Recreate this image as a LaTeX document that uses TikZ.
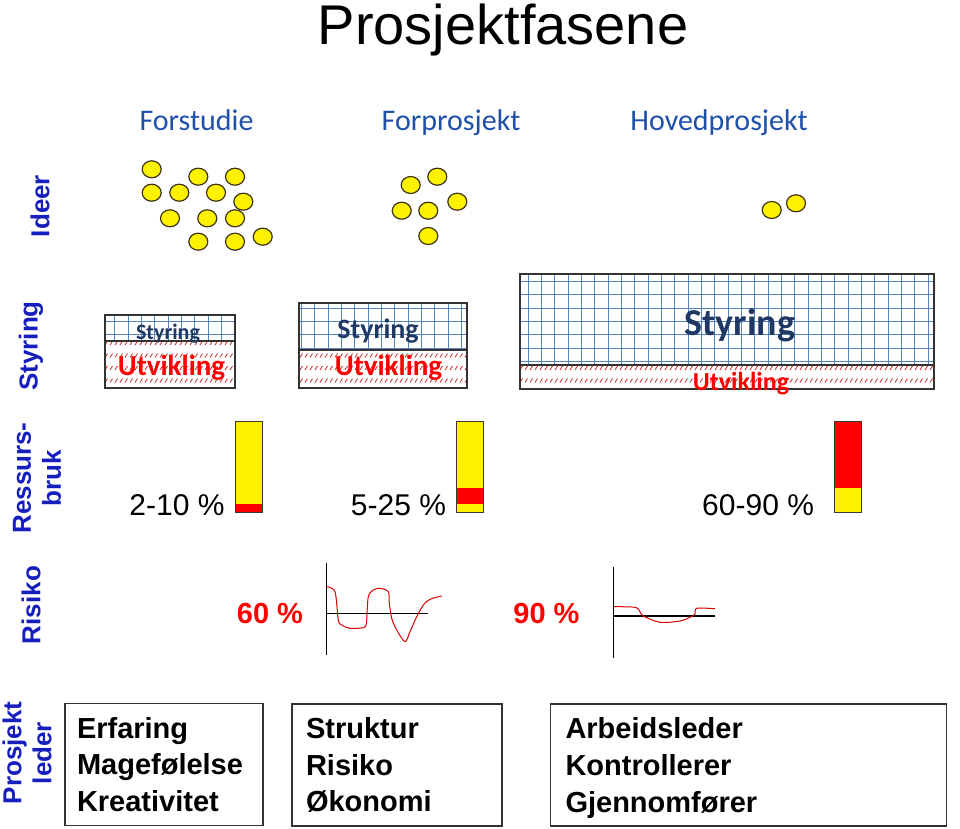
\documentclass[tikz,border=0pt]{standalone}
\usepackage{fontspec}
\setmainfont{Liberation Sans}
\newfontfamily\calibri{Carlito}
\usepackage{xcolor}
\usepackage{tikz}
\usetikzlibrary{positioning,shapes.geometric}

\definecolor{rowblue}{RGB}{22,30,190}
\definecolor{phaseblue}{RGB}{31,80,170}
\definecolor{navyblue}{RGB}{31,56,100}
\definecolor{gridblue}{RGB}{84,130,190}
\definecolor{hatchred}{RGB}{200,40,40}
\definecolor{ideaedge}{RGB}{60,50,20}

\begin{document}
\begin{tikzpicture}[x=1pt, y=-1pt,
    rowlabel/.style={rotate=90, text=rowblue, align=center, inner sep=0pt,
      font=\fontsize{26}{30}\selectfont\bfseries},
    phase/.style={anchor=base, text=phaseblue, font=\calibri\fontsize{30}{36}\selectfont},
    idea/.style={ellipse, draw=ideaedge, fill=yellow, line width=1.2pt,
      minimum width=19pt, minimum height=17pt, inner sep=0pt},
    stylabel/.style={anchor=base, text=navyblue, font=\calibri\bfseries\fontsize{#1}{#1}\selectfont},
    utvlabel/.style={anchor=base, text=red, font=\calibri\bfseries\fontsize{#1}{#1}\selectfont},
    gridline/.style={gridblue, line width=1pt},
    hatch/.style={hatchred, line width=0.8pt},
    boxline/.style={black!80, line width=1.5pt},
    bar/.style={fill=yellow, minimum width=27pt, minimum height=91pt, inner sep=0pt, outer sep=0pt},
    barline/.style={black!75!olive, line width=1pt},
    share/.style={anchor=base east, font=\fontsize{30}{36}\selectfont},
    risk/.style={text=red, font=\fontsize{29}{34}\selectfont\bfseries},
    riskline/.style={red!85!black, line width=1pt},
    axis/.style={black, line width=1.2pt},
    leader/.style={draw=black!80, line width=1.2pt, align=left, minimum height=122pt,
      inner ysep=0pt, font=\fontsize{29}{36.7}\selectfont\bfseries}
  ]
  \fill[white] (0,0) rectangle (960,828);
  \useasboundingbox (0,0) rectangle (960,828);

  \node[anchor=base, font=\fontsize{56}{60}\selectfont] (title) at (503,44) {Prosjektfasene};

  \node[phase] (forstudie) at (196.5,130) {Forstudie};
  \node[phase] (forprosjekt) at (451,130) {Forprosjekt};
  \node[phase] (hovedprosjekt) at (719,130) {Hovedprosjekt};

  \node[rowlabel] (lblideer) at (40,206) {Ideer};
  \node[rowlabel] (lblstyring) at (31,346) {Styring};
  \node[rowlabel] (lblressurs) at (37,478) {Ressurs-\\bruk};
  \node[rowlabel] (lblrisiko) at (31,605) {Risiko};
  \node[rowlabel] (lblleder) at (27,753) {Prosjekt\\leder};

  \foreach \ix/\iy [count=\k] in {151.7/169.3, 198.3/176.7, 235/176.7, 151.7/192.7, 179.3/192.7,
      216/192.7, 243.3/201.7, 170/218.3, 207.3/218.3, 235/218.3, 198.3/241.7, 235/241.7, 262.7/236.7,
      410.7/185, 437.3/176.7, 401.7/210.7, 428.3/210.7, 457.3/201.7, 428.3/236,
      771.7/210, 796/203.3}
    \node[idea] (idea\k) at (\ix,\iy) {};

  \foreach \xa/\ya/\ym/\xb/\yb in {105/315/341/235/388, 299/303/350/467/388, 520/274/365/934/389}{
    \begin{scope}
      \clip (\xa,\ya) rectangle (\xb,\ym);
      \foreach \gx in {8.3,21.63,...,940} \draw[gridline] (\gx,\ya) -- (\gx,\ym);
      \foreach \gy in {268.3,281.63,...,370} \draw[gridline] (\xa,\gy) -- (\xb,\gy);
    \end{scope}
    \begin{scope}
      \clip (\xa,\ym) rectangle (\xb,\yb);
      \foreach \hy in {343,355.5,368,380.5}
        \draw[hatch] \foreach \hx in {100,105,...,940} {(\hx,\hy+2) -- ++(2.5,-4)};
    \end{scope}
    \draw[boxline] (\xa,\ya) rectangle (\xb,\yb);
    \draw[boxline] (\xa,\ym) -- (\xb,\ym);
  }
  \node[stylabel=22] (sty1) at (168,339) {Styring};
  \node[utvlabel=29] (utv1) at (171.5,375) {Utvikling};
  \node[stylabel=28] (sty2) at (378,338) {Styring};
  \node[utvlabel=29] (utv2) at (388.5,375) {Utvikling};
  \node[stylabel=38] (sty3) at (740,335) {Styring};
  \node[utvlabel=26] (utv3) at (741,390) {Utvikling};

  \node[bar] (bar1) at (248.5,466.5) {};
  \fill[red] (bar1.south west) rectangle ([yshift=8pt]bar1.south east);
  \draw[barline] (bar1.south west) rectangle (bar1.north east);
  \node[bar] (bar2) at (470,466.5) {};
  \fill[red] ([yshift=8pt]bar2.south west) rectangle ([yshift=24pt]bar2.south east);
  \draw[barline] (bar2.south west) rectangle (bar2.north east);
  \node[bar] (bar3) at (848,466.5) {};
  \fill[red] ([yshift=24pt]bar3.south west) rectangle (bar3.north east);
  \draw[barline] (bar3.south west) rectangle (bar3.north east);

  \node[share, left=7pt of bar1.south west, anchor=base east, yshift=-3pt] (pct1) {2-10 \%};
  \node[share, left=7pt of bar2.south west, anchor=base east, yshift=-3pt] (pct2) {5-25 \%};
  \node[share, left=17pt of bar3.south west, anchor=base east, yshift=-3pt] (pct3) {60-90 \%};

  \node[risk] (risk60) at (270,614) {60 \%};
  \node[risk] (risk90) at (546.5,614) {90 \%};

  \draw[axis] (326.7,563) -- (326.7,655);
  \draw[axis] (326.7,613.3) -- (428.3,613.3);
  \draw[riskline] plot[smooth, tension=0.5] coordinates {(326.7,586.7) (335,591.7) (338.3,620)
    (341.7,625) (350,628.3) (363.3,627.7) (366,625) (366.7,620) (368.3,596.7) (373.3,590)
    (380,588.3) (388.3,591.7) (389.3,603.3) (391.7,618.3) (396.7,630) (405,641.7) (410,631.7)
    (416.7,616.7) (423.3,605) (430,599.3) (441.7,596)};

  \draw[axis] (613.3,566.7) -- (613.3,658.3);
  \draw[axis] (613.3,616) -- (715,616);
  \draw[riskline] plot[smooth, tension=0.5] coordinates {(613.3,606.7) (635,607.3) (640,611.7)
    (643.3,616) (660,622.3) (680,621) (690,617.3) (695,614) (696.7,608.3) (715,608.7)};

  \node[leader, text width=174pt, inner xsep=12pt] (lead1) at (164,764.5)
    {Erfaring\\Magefølelse\\Kreativitet};
  \node[leader, text width=182pt, inner xsep=14pt] (lead2) at (397,765)
    {Struktur\\Risiko\\Økonomi};
  \node[leader, text width=366pt, inner xsep=15pt] (lead3) at (748.5,765)
    {Arbeidsleder\\Kontrollerer\\\smash{Gjennomfører}};
\end{tikzpicture}
\end{document}
